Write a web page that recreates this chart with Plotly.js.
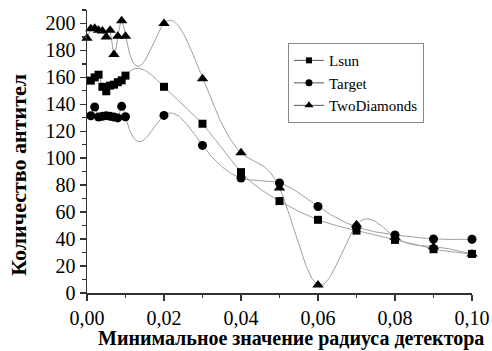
<!DOCTYPE html>
<html>
<head>
<meta charset="utf-8">
<script src="https://cdn.plot.ly/plotly-3.0.1.min.js"></script>
<style>
  html, body { margin: 0; padding: 0; background: #fff; }
  #chart { width: 492px; height: 351px; }
</style>
</head>
<body>
<div id="chart"></div>
<script>
// ---- data ----
const seriesNames = ["Lsun", "Target", "TwoDiamonds"];

const lsunX = [0.001, 0.002, 0.003, 0.004, 0.005, 0.006, 0.007, 0.008, 0.009, 0.010,
               0.02, 0.03, 0.04, 0.05, 0.06, 0.07, 0.08, 0.09, 0.10];
const lsunY = [157.6, 160, 162, 153, 149.7, 153.9, 154.6, 156.4, 157.8, 161.3,
               153, 125.6, 89.7, 68.2, 54.3, 46.3, 39.4, 32.5, 29];

const targetX = [0.001, 0.002, 0.003, 0.004, 0.005, 0.006, 0.007, 0.008, 0.009, 0.010,
                 0.02, 0.03, 0.04, 0.05, 0.06, 0.07, 0.08, 0.09, 0.10];
const targetY = [131.5, 138, 130.6, 131.1, 131.6, 131.1, 130.6, 129.9, 138.5, 130.8,
                 131.8, 109.5, 85.3, 81.6, 64.2, 49, 43.1, 40.1, 39.9];

const diamondsX = [0.000, 0.001, 0.002, 0.003, 0.004, 0.005, 0.006, 0.007, 0.008, 0.009, 0.010,
                   0.02, 0.03, 0.04, 0.05, 0.06, 0.07, 0.08, 0.09, 0.10];
const diamondsY = [189, 196, 196.5, 195, 194.5, 190, 195, 177, 190.5, 202, 190.5,
                   200, 159, 104, 78, 6, 50.6, 41.4, 34.4, 29];

const xTickVals = [0, 0.02, 0.04, 0.06, 0.08, 0.10];
const xTitle = "Минимальное значение радиуса детектора";
const yTitle = "Количество антител";

// ---- natural cubic spline through the data (Origin-style "spline" connection) ----
function naturalSpline(xs, ys, perSeg) {
  const n = xs.length;
  const h = [], alpha = [], l = [], mu = [], z = [], c = [], b = [], d = [];
  for (let i = 0; i < n - 1; i++) h[i] = xs[i + 1] - xs[i];
  for (let i = 1; i < n - 1; i++)
    alpha[i] = 3 / h[i] * (ys[i + 1] - ys[i]) - 3 / h[i - 1] * (ys[i] - ys[i - 1]);
  l[0] = 1; mu[0] = 0; z[0] = 0;
  for (let i = 1; i < n - 1; i++) {
    l[i] = 2 * (xs[i + 1] - xs[i - 1]) - h[i - 1] * mu[i - 1];
    mu[i] = h[i] / l[i];
    z[i] = (alpha[i] - h[i - 1] * z[i - 1]) / l[i];
  }
  l[n - 1] = 1; z[n - 1] = 0; c[n - 1] = 0;
  for (let j = n - 2; j >= 0; j--) {
    c[j] = z[j] - mu[j] * c[j + 1];
    b[j] = (ys[j + 1] - ys[j]) / h[j] - h[j] * (c[j + 1] + 2 * c[j]) / 3;
    d[j] = (c[j + 1] - c[j]) / (3 * h[j]);
  }
  const ox = [], oy = [];
  for (let i = 0; i < n - 1; i++) {
    const m = Math.max(4, Math.round(perSeg * h[i] / 0.01));
    for (let k = 0; k < m; k++) {
      const t = h[i] * k / m;
      ox.push(xs[i] + t);
      oy.push(ys[i] + b[i] * t + c[i] * t * t + d[i] * t * t * t);
    }
  }
  ox.push(xs[n - 1]); oy.push(ys[n - 1]);
  return { x: ox, y: oy };
}

const lineColor = "#a0a0a0";
const font = "'Liberation Serif', 'Times New Roman', serif";

const sets = [
  { name: seriesNames[0], x: lsunX, y: lsunY, symbol: "square", size: 8 },
  { name: seriesNames[1], x: targetX, y: targetY, symbol: "circle", size: 9 },
  { name: seriesNames[2], x: diamondsX, y: diamondsY, symbol: "triangle-up", size: 10 }
];

const traces = [];
sets.forEach(s => {
  const sp = naturalSpline(s.x, s.y, 40);
  traces.push({
    x: sp.x, y: sp.y, type: "scatter", mode: "lines",
    line: { color: lineColor, width: 1 }, hoverinfo: "skip",
    showlegend: false, cliponaxis: false
  });
});
sets.forEach(s => {
  traces.push({
    x: s.x, y: s.y, type: "scatter", mode: "markers", name: s.name,
    marker: { symbol: s.symbol, size: s.size, color: "#000" },
    showlegend: false, cliponaxis: false
  });
});
// legend entries (line + marker sample)
sets.forEach(s => {
  traces.push({
    x: [null], y: [null], type: "scatter", mode: "lines+markers", name: s.name,
    line: { color: "#555", width: 1 },
    marker: { symbol: s.symbol, size: s.size - 2, color: "#000" },
    showlegend: true
  });
});

const axisCommon = {
  showline: true, linecolor: "#333", linewidth: 1.5,
  ticks: "outside", ticklen: 6, tickwidth: 1.5, tickcolor: "#333",
  showgrid: false, zeroline: false,
  tickfont: { family: font, size: 20, color: "#000" }
};

const layout = {
  width: 492, height: 351,
  margin: { l: 87, r: 20, t: 10, b: 58 },
  paper_bgcolor: "#fff", plot_bgcolor: "#fff",
  separators: ",.",
  showlegend: true,
  font: { family: font, color: "#000" },
  xaxis: Object.assign({}, axisCommon, {
    range: [0, 0.1], tickvals: xTickVals, tickformat: ".2f",
    minor: { dtick: 0.01, ticks: "outside", ticklen: 3.5, tickwidth: 1.2, tickcolor: "#333" }
  }),
  yaxis: Object.assign({}, axisCommon, {
    range: [0, 210], tick0: 0, dtick: 20,
    minor: { dtick: 10, ticks: "outside", ticklen: 3.5, tickwidth: 1.2, tickcolor: "#333" }
  }),
  legend: {
    x: 0.522, y: 0.883, xanchor: "left", yanchor: "top",
    bgcolor: "rgba(255,255,255,0)", bordercolor: "#888", borderwidth: 1,
    font: { family: font, size: 15, color: "#000" },
    tracegroupgap: 0
  },
  annotations: [
    {
      text: xTitle, showarrow: false,
      xref: "paper", yref: "paper", x: 0.53, y: -0.207,
      xanchor: "center", yanchor: "bottom",
      font: { family: font, size: 20, weight: "bold", color: "#000" }
    },
    {
      text: yTitle, textangle: -90, showarrow: false,
      xref: "paper", yref: "paper", x: -0.177, y: 0.417,
      xanchor: "center", yanchor: "middle",
      font: { family: font, size: 22, weight: "bold", color: "#000" }
    }
  ]
};

Plotly.newPlot("chart", traces, layout, { displayModeBar: false, staticPlot: true });
</script>
</body>
</html>
